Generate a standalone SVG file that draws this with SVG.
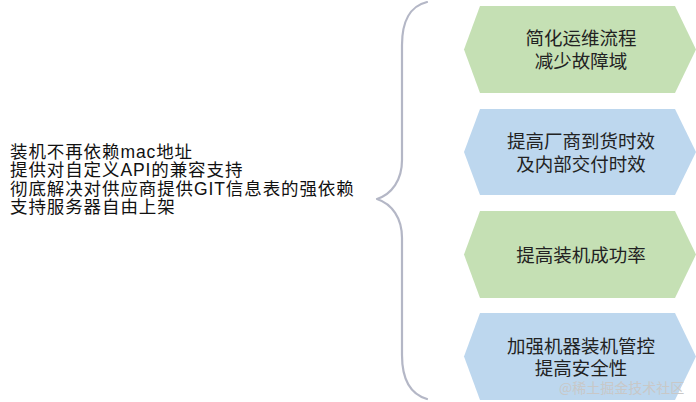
<svg xmlns="http://www.w3.org/2000/svg" width="696" height="402" viewBox="0 0 696 402">
<style>
.lt{font-family:"Liberation Sans","Noto Sans CJK SC",sans-serif;font-size:17.5px;letter-spacing:0.9px;fill:#111}
.ht{font-family:"Liberation Serif","Noto Sans CJK SC",serif;font-size:18.5px;fill:#222;text-anchor:middle}
.g{fill:#c5e0b4}
.b{fill:#bdd7ee}
.br{fill:none;stroke:#b4b7c6;stroke-width:2.2;stroke-linecap:round;stroke-linejoin:round}
.wm{font-family:"Noto Sans CJK SC",sans-serif;font-size:14px;fill:#c8c8c8}
</style>
<rect width="696" height="402" fill="#ffffff"/>
<g id="left-text">
<text class="lt" x="10" y="157.5">装机不再依赖mac地址</text>
<text class="lt" x="10" y="176">提供对自定义API的兼容支持</text>
<text class="lt" x="10" y="194.5">彻底解决对供应商提供GIT信息表的强依赖</text>
<text class="lt" x="10" y="213">支持服务器自由上架</text>
</g>
<g id="connectors">
<path class="br" d="M427,2 C410,6 402,22 402,45 L402,160 C402,180 392,194 377,199 C392,204 402,218 402,238 L402,355 C402,378 410,394 427,399"/>
</g>
<g id="node1">
<polygon class="g" points="464,49.5 480,6 675,6 696,49.5 675,93 480,93"/>
<text class="ht" x="581" y="45">简化运维流程</text>
<text class="ht" x="581" y="68">减少故障域</text>
</g>
<g id="node2">
<polygon class="b" points="464,152 480,109 675,109 696,152 675,195 480,195"/>
<text class="ht" x="581" y="148">提高厂商到货时效</text>
<text class="ht" x="581" y="171">及内部交付时效</text>
</g>
<g id="node3">
<polygon class="g" points="464,254.5 480,211 675,211 696,254.5 675,298 480,298"/>
<text class="ht" x="581" y="261.5">提高装机成功率</text>
</g>
<g id="node4">
<polygon class="b" points="464,356.5 480,313 675,313 696,356.5 675,400 480,400"/>
<text class="ht" x="581" y="353">加强机器装机管控</text>
<text class="ht" x="581" y="375">提高安全性</text>
</g>
<text class="wm" x="559" y="393">@稀土掘金技术社区</text>
</svg>
